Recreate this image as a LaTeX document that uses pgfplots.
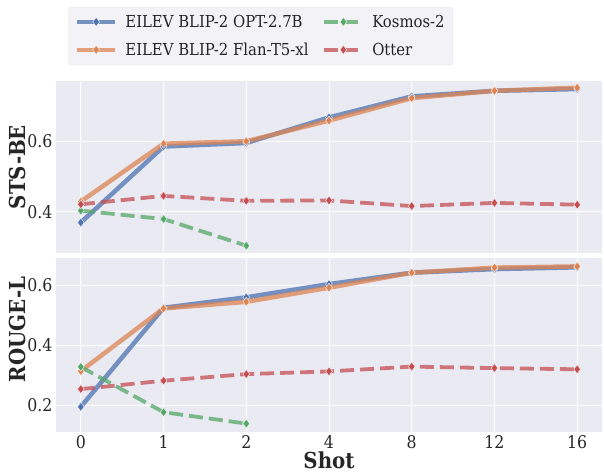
\documentclass[border=0pt]{standalone}
\usepackage{fontspec}
\setmainfont{DejaVu Serif Condensed}
\usepackage{pgfplots}
\pgfplotsset{compat=1.18}

\definecolor{bgc}{RGB}{234,234,242}
\definecolor{cblue}{RGB}{76,114,176}
\definecolor{corange}{RGB}{221,132,82}
\definecolor{cgreen}{RGB}{85,168,104}
\definecolor{cred}{RGB}{196,78,82}

\pgfplotsset{
  panel/.style={
    scale only axis, width=546pt, xmin=-0.3, xmax=6.3,
    axis background/.style={fill=bgc},
    axis line style={draw=none},
    grid=major, major grid style={white, line width=1pt},
    major tick length=0pt,
    xtick={0,...,6},
    tick label style={font=\fontsize{17.5}{20}\selectfont, text=black!85},
    /pgf/number format/assume math mode=true,
    /pgf/number format/fixed, /pgf/number format/precision=1,
    /pgf/number format/fixed zerofill,
    label style={font=\bfseries\fontsize{22}{24}\selectfont, text=black!85},
    ylabel style={anchor=center},
  },
  ln/.style={color=#1, draw opacity=0.75, line width=4.5pt, line join=round,
    mark=diamond*, mark size=4.5pt, mark options={solid, fill=#1, draw=white, line width=0.6pt}},
  dl/.style={ln=#1, line width=3.8pt, dash pattern=on 14pt off 6pt},
  legend image code/.code={\draw[mark repeat=2, mark phase=2] plot coordinates {(0pt,0pt) (19pt,0pt) (38pt,0pt)};},
}

\begin{document}
\begin{tikzpicture}
\path[use as bounding box] (0,0) rectangle (604pt,-474pt);

% STS-BE panel
\begin{axis}[panel, at={(56pt,-81pt)}, anchor=north west, height=172pt,
  ymin=0.282, ymax=0.773, ytick={0.4,0.6}, xticklabels={},
  ylabel={STS-BE}, ylabel style={at={(axis description cs:-0.0714,0.5)}},
  legend columns=2, transpose legend, legend cell align=left,
  legend style={at={(0.375,1)}, anchor=south, yshift=16pt,
    draw=black!10, fill=bgc!60!white, rounded corners=2pt,
    font=\fontsize{16.5}{18}\selectfont, text=black!85,
    row sep=10pt, inner xsep=6pt, inner ysep=6pt,
    /tikz/every odd column/.append style={column sep=6pt},
    /tikz/every even column/.append style={column sep=12pt}},
]
\addplot[ln=cblue] coordinates {(0,0.369) (1,0.586) (2,0.596) (3,0.669) (4,0.729) (5,0.745) (6,0.750)};
\addlegendentry{EILEV BLIP-2 OPT-2.7B}
\addplot[ln=corange] coordinates {(0,0.429) (1,0.594) (2,0.601) (3,0.660) (4,0.724) (5,0.745) (6,0.754)};
\addlegendentry{EILEV BLIP-2 Flan-T5-xl}
\addplot[dl=cgreen] coordinates {(0,0.403) (1,0.379) (2,0.303)};
\addlegendentry{Kosmos-2}
\addplot[dl=cred] coordinates {(0,0.421) (1,0.445) (2,0.431) (3,0.432) (4,0.416) (5,0.425) (6,0.420)};
\addlegendentry{Otter}
\end{axis}

% ROUGE-L panel
\begin{axis}[panel, at={(56pt,-258pt)}, anchor=north west, height=174pt,
  ymin=0.11, ymax=0.69, ytick={0.2,0.4,0.6},
  xticklabels={0,1,2,4,8,12,16},
  ylabel={ROUGE-L}, ylabel style={at={(axis description cs:-0.0714,0.59)}},
  xlabel={Shot}, xlabel style={at={(axis description cs:0.5,-0.165)}, anchor=center},
]
\addplot[ln=cblue] coordinates {(0,0.194) (1,0.524) (2,0.559) (3,0.603) (4,0.641) (5,0.653) (6,0.659)};
\addplot[ln=corange] coordinates {(0,0.313) (1,0.522) (2,0.544) (3,0.591) (4,0.641) (5,0.658) (6,0.662)};
\addplot[dl=cgreen] coordinates {(0,0.327) (1,0.176) (2,0.138)};
\addplot[dl=cred] coordinates {(0,0.253) (1,0.281) (2,0.303) (3,0.312) (4,0.328) (5,0.323) (6,0.319)};
\end{axis}
\end{tikzpicture}
\end{document}
